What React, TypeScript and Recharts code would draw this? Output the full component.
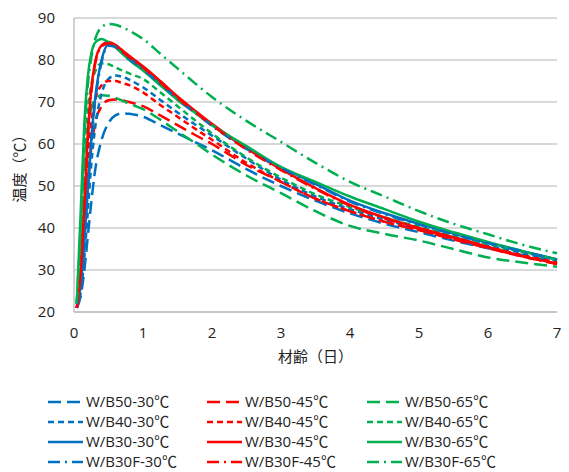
import React from 'react';
import { LineChart, Line, XAxis, YAxis, CartesianGrid, Label } from 'recharts';

// sampling times (days)
const days = [0.04, 0.1, 0.15, 0.2, 0.25, 0.3, 0.4, 0.5, 0.6, 0.7, 0.8, 1, 1.25, 1.5, 1.75, 2, 2.5, 3, 3.5, 4, 4.5, 5, 5.5, 6, 6.5, 7];

// temperatures (°C)
const wb50_30 = [21, 24, 30, 38, 46, 53, 61, 65, 66.8, 67.3, 67.2, 66.5, 64.5, 62.5, 60.5, 58.5, 54, 50, 46.5, 43.5, 41, 39, 37, 35.2, 33.5, 32];
const wb50_45 = [21, 27, 38, 50, 59, 64.5, 69, 70.4, 70.6, 70.4, 70, 69, 66.8, 64.5, 62.2, 60, 55, 51, 47, 44, 41.5, 39.5, 37.3, 35.2, 33.2, 31.5];
const wb50_65 = [22, 38, 55, 64, 68.5, 70.5, 71.6, 71.5, 71, 70.3, 69.6, 68.3, 65.8, 63, 60.3, 57.5, 52.5, 48.3, 44, 40.5, 38.6, 37, 35, 33, 31.8, 30.8];
const wb40_30 = [21, 25, 33, 44, 55, 63, 72, 75.5, 76.3, 76, 75.3, 73.5, 70.5, 67.5, 64.7, 62, 56.5, 51.5, 47.5, 44.5, 42, 39.8, 37.8, 35.8, 34, 32.3];
const wb40_45 = [21, 28, 42, 56, 65, 70, 74, 75, 75, 74.5, 74, 72.3, 69.3, 66.5, 63.7, 61, 55.5, 51, 47, 44, 41.5, 39.5, 37.5, 35.5, 33.5, 31.8];
const wb40_65 = [22, 40, 58, 68, 74, 77, 79.2, 79, 78.2, 77.5, 76.8, 75.5, 72.3, 69, 65.7, 62.5, 56.8, 52, 48, 45, 42.5, 40.3, 38.3, 36.2, 34.3, 32.5];
const wb30_30 = [21, 27, 37, 50, 61, 70, 80, 83.7, 83.4, 82, 80.5, 78, 74.5, 71, 67.7, 64.5, 59, 54.5, 50.5, 46.5, 43.5, 41, 38.7, 36.5, 34.5, 32.5];
const wb30_45 = [21, 30, 45, 62, 73, 79, 83.5, 84.3, 83.6, 82.3, 81, 78.5, 75, 71.3, 68, 64.8, 59, 54, 49.5, 45.5, 42.5, 40, 37.8, 35.5, 33.3, 31.5];
const wb30_65 = [22, 45, 65, 76, 81.5, 84, 85, 84.2, 83, 81.5, 80, 77.5, 74, 70.5, 67.5, 64.5, 59.5, 54.5, 51, 47.5, 44.5, 41.5, 39, 36.7, 34.5, 32.5];
const wb30f_30 = [21, 27, 37, 49, 60, 69, 79.5, 83.4, 83.1, 81.8, 80.3, 77.8, 74.3, 70.8, 67.5, 64.3, 58.8, 54.3, 50.3, 46.3, 43.3, 40.8, 38.5, 36.4, 34.4, 32.4];
const wb30f_45 = [21, 30, 45, 61, 72, 78.5, 83.2, 84, 83.3, 82, 80.7, 78.2, 74.7, 71, 67.7, 64.5, 58.7, 53.8, 49.3, 45.3, 42.3, 39.8, 37.6, 35.3, 33.2, 31.4];
const wb30f_65 = [22, 42, 62, 74, 80.5, 84.5, 87.8, 88.6, 88.4, 87.8, 87, 85, 81.5, 78, 74.5, 71.2, 65.5, 60.5, 55.5, 51, 47.5, 44, 41, 38.5, 36, 34];

const xTicks = [0, 1, 2, 3, 4, 5, 6, 7];
const yTicks = [20, 30, 40, 50, 60, 70, 80, 90];

const BLUE = '#0070C0';
const RED = '#FF0000';
const GREEN = '#00B050';

const LONG_DASH = '13 6';
const SHORT_DASH = '6 4';
const DASH_DOT = '12 5 2 5';

// legend order: row by row, three per row
const series = [
  { key: 'wb50_30', name: 'W/B50-30℃', values: wb50_30, color: BLUE, dash: LONG_DASH },
  { key: 'wb50_45', name: 'W/B50-45℃', values: wb50_45, color: RED, dash: LONG_DASH },
  { key: 'wb50_65', name: 'W/B50-65℃', values: wb50_65, color: GREEN, dash: LONG_DASH },
  { key: 'wb40_30', name: 'W/B40-30℃', values: wb40_30, color: BLUE, dash: SHORT_DASH },
  { key: 'wb40_45', name: 'W/B40-45℃', values: wb40_45, color: RED, dash: SHORT_DASH },
  { key: 'wb40_65', name: 'W/B40-65℃', values: wb40_65, color: GREEN, dash: SHORT_DASH },
  { key: 'wb30_30', name: 'W/B30-30℃', values: wb30_30, color: BLUE, dash: undefined },
  { key: 'wb30_45', name: 'W/B30-45℃', values: wb30_45, color: RED, dash: undefined },
  { key: 'wb30_65', name: 'W/B30-65℃', values: wb30_65, color: GREEN, dash: undefined },
  { key: 'wb30f_30', name: 'W/B30F-30℃', values: wb30f_30, color: BLUE, dash: DASH_DOT },
  { key: 'wb30f_45', name: 'W/B30F-45℃', values: wb30f_45, color: RED, dash: DASH_DOT },
  { key: 'wb30f_65', name: 'W/B30F-65℃', values: wb30f_65, color: GREEN, dash: DASH_DOT },
];

const data = days.map((d, i) => {
  const row: Record<string, number> = { day: d };
  series.forEach((s) => {
    row[s.key] = s.values[i];
  });
  return row;
});

const FONT = '"Open Sans", "Noto Sans CJK JP", sans-serif';

const LegendBlock = () => {
  const colX = [48, 207, 367];
  const rowY = [402, 422, 442, 462];
  return (
    <svg width={569} height={472} style={{ position: 'absolute', left: 0, top: 0, pointerEvents: 'none' }}>
      {series.map((s, i) => {
        const x = colX[i % 3];
        const y = rowY[Math.floor(i / 3)];
        return (
          <g key={s.key}>
            <line x1={x} y1={y} x2={x + 35} y2={y} stroke={s.color} strokeWidth={2.5} strokeDasharray={s.dash} />
            <text x={x + 38} y={y} dy="0.35em" fontSize={15} fill="#222" fontFamily={FONT}>
              {s.name}
            </text>
          </g>
        );
      })}
    </svg>
  );
};

export default function App() {
  return (
    <div style={{ position: 'absolute', left: 0, top: 0, width: 569, height: 472, background: '#fff' }}>
      <LineChart width={569} height={472} data={data} margin={{ top: 18, right: 12, left: 0, bottom: 100 }}>
        <CartesianGrid vertical={false} stroke="#b4b4b4" strokeWidth={1.2} />
        <XAxis
          dataKey="day"
          type="number"
          domain={[0, 7]}
          ticks={xTicks}
          height={60}
          tickLine={false}
          tickMargin={9}
          stroke="#b4b4b4"
          strokeWidth={1.2}
          tick={{ fill: '#222', fontSize: 15, fontFamily: FONT }}
        >
          <Label value="材齢（日）" position="insideBottom" offset={10} style={{ fill: '#222', fontSize: 15, fontFamily: FONT }} />
        </XAxis>
        <YAxis
          type="number"
          domain={[20, 90]}
          ticks={yTicks}
          width={74}
          tickLine={false}
          tickMargin={13}
          stroke="#b4b4b4"
          strokeWidth={1.2}
          tick={{ fill: '#222', fontSize: 15, fontFamily: FONT }}
        >
          <Label value="温度（℃）" angle={-90} position="insideLeft" offset={20} style={{ fill: '#222', fontSize: 15, fontFamily: FONT, textAnchor: 'middle' }} />
        </YAxis>
        {series.map((s) => (
          <Line
            key={s.key}
            dataKey={s.key}
            name={s.name}
            type="monotone"
            stroke={s.color}
            strokeWidth={2.5}
            strokeDasharray={s.dash}
            dot={false}
            isAnimationActive={false}
          />
        ))}
      </LineChart>
      <LegendBlock />
    </div>
  );
}
